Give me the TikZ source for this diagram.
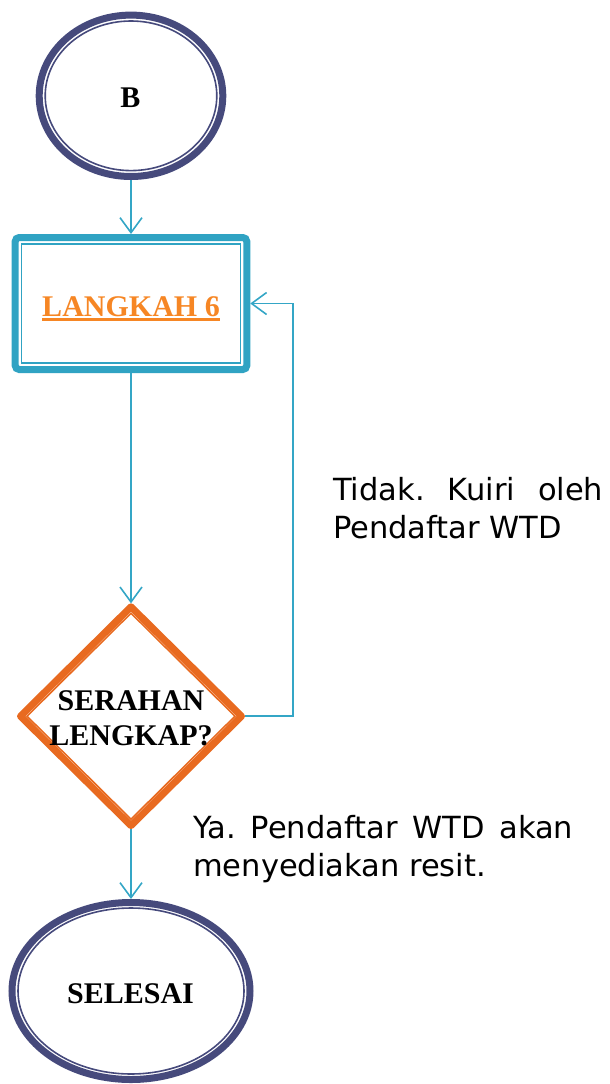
\documentclass[tikz,border=0pt]{standalone}
\usepackage{fontspec}
\setmainfont{Liberation Serif}
\newfontfamily\labelfont{DejaVu Sans}
\usetikzlibrary{shapes.geometric,arrows.meta}
\definecolor{ringnavy}{RGB}{70,74,124}
\definecolor{lineteal}{RGB}{52,166,198}
\definecolor{boxteal}{RGB}{48,163,195}
\definecolor{diaorange}{RGB}{232,106,32}
\definecolor{txtorange}{RGB}{246,134,36}
\newcommand{\notesetup}{\tolerance=10000 \hyphenpenalty=10000 \frenchspacing}
\tikzset{
  ring/.style={draw=ringnavy, line width=7pt},
  ringin/.style={draw=ringnavy, line width=1.6pt},
  boxring/.style={draw=boxteal, line width=7pt, rounded corners=4pt},
  boxin/.style={draw=boxteal, line width=1.8pt},
  diaring/.style={draw=diaorange, line width=7pt, line join=round},
  diain/.style={draw=diaorange, line width=1.6pt},
  flow/.style={draw=lineteal, line width=1.6pt, -{Straight Barb[length=15pt,width=22pt]}},
  shapebox/.style={inner sep=0pt, outer sep=0pt},
  bold/.style={inner sep=0pt, anchor=base, font=\bfseries\fontsize{30}{35}\selectfont},
  note/.style={inner sep=0pt, anchor=base west, align=justify,
    font=\labelfont\fontsize{30.5}{38.5}\selectfont}
}
\begin{document}
\begin{tikzpicture}[x=1pt,y=-1pt]
\useasboundingbox (0,0) rectangle (610,1084);
% shapes (outer extents)
\node[shapebox, ellipse, minimum width=190.6pt, minimum height=168.4pt] (B) at (131,95.8) {};
\node[shapebox, rectangle, minimum width=238.5pt, minimum height=139pt] (step6) at (131,303.5) {};
\node[shapebox, diamond, minimum width=228pt, minimum height=225.7pt] (dia) at (131,716.2) {};
\node[shapebox, ellipse, minimum width=245pt, minimum height=184pt] (end) at (131,991) {};
\coordinate (lx) at (293,0);
% borders
\draw[ring] (B.center) ellipse [x radius=91.8, y radius=80.7];
\draw[ringin] (B.center) ellipse [x radius=85.8, y radius=74.8];
\draw[boxring] (15.2,237.5) rectangle (246.8,369.5);
\draw[boxin] (21.5,244) rectangle (240.5,363);
\draw[diaring] (131,606.8) -- (241.5,716.2) -- (131,825.6) -- (20.5,716.2) -- cycle;
\draw[diain] (131,613.2) -- (235,716.2) -- (131,819.2) -- (27,716.2) -- cycle;
\draw[ring] (end.center) ellipse [x radius=119, y radius=88.5];
\draw[ringin] (end.center) ellipse [x radius=113, y radius=83];
% texts
\node[bold] (tB) at (130.5,107) {B};
\node[bold, text=txtorange] (t6) at (131,316.7) {LANGKAH 6};
\draw[txtorange, line width=3pt] ([yshift=-3pt]t6.base west) -- ([yshift=-3pt]t6.base east);
\node[bold] (tq1) at (131,710) {SERAHAN};
\node[bold] (tq2) at (131,745) {LENGKAP?};
\node[bold] (tend) at (130.5,1003.3) {SELESAI};
\node[note, text width=270pt] (tno) at (333,500) {\notesetup Tidak. Kuiri oleh Pendaftar WTD};
\node[note, text width=380pt] (tyes) at (193,838) {\notesetup Ya. Pendaftar WTD akan menyediakan resit.};
% connectors
\draw[flow] (B.south) -- (step6.north);
\draw[flow] (step6.south) -- (dia.north);
\draw[flow] (dia.east) -- (dia.east -| lx) -- (lx |- step6.east) -- (step6.east);
\draw[flow] (dia.south) -- (end.north);
\end{tikzpicture}
\end{document}
